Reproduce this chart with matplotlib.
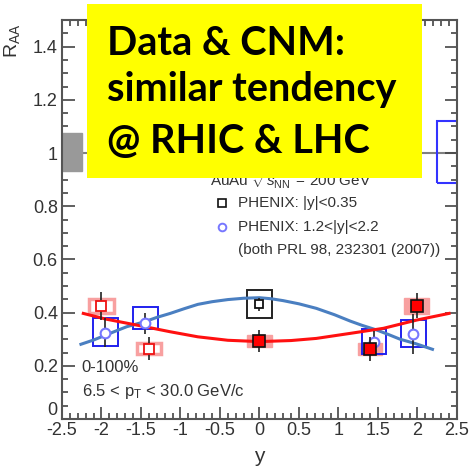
import numpy as np
import matplotlib
matplotlib.use("Agg")
import matplotlib.pyplot as plt
from matplotlib.patches import Rectangle
from matplotlib.ticker import MultipleLocator

plt.rcParams['font.family'] = ['Liberation Sans', 'DejaVu Sans']
plt.rcParams['mathtext.fontset'] = 'custom'
plt.rcParams['mathtext.rm'] = 'Liberation Sans'
plt.rcParams['mathtext.it'] = 'Liberation Sans:italic'

# PHENIX |y|<0.35 (black open square)
mid_x = [0.0]
mid_y = [0.431]
mid_stat = [0.025]
mid_sys_lo = [0.050]
mid_sys_hi = [0.054]

# PHENIX 1.2<|y|<2.2 (blue open circles)
fwd_x = [-1.95, -1.445, 1.45, 1.947]
fwd_y = [0.325, 0.360, 0.289, 0.320]
fwd_stat = [0.053, 0.040, 0.040, 0.075]
fwd_sys_lo = [0.050, 0.023, 0.045, 0.048]
fwd_sys_hi = [0.055, 0.061, 0.048, 0.052]

# red open squares (pink outline boxes)
ro_x = [-2.0, -1.4]
ro_y = [0.425, 0.265]
ro_stat = [0.052, 0.045]
ro_sys = [0.027, 0.019]

# red filled squares (pink filled boxes)
rf_x = [0.0, 1.4, 1.99]
rf_y = [0.293, 0.262, 0.425]
rf_stat = [0.041, 0.045, 0.047]
rf_sys = [0.024, 0.022, 0.030]

# model curves
blue_cx = [-2.26, -2.1, -1.95, -1.8, -1.68, -1.45, -1.3, -1.13, -0.95, -0.78, -0.6, -0.4, -0.2,
           0.0, 0.15, 0.3, 0.5, 0.72, 0.95, 1.15, 1.3, 1.48, 1.63, 1.78, 1.98, 2.19]
blue_cy = [0.281, 0.297, 0.315, 0.333, 0.347, 0.366, 0.382, 0.397, 0.415, 0.431, 0.441, 0.449, 0.454,
           0.456, 0.452, 0.445, 0.433, 0.416, 0.392, 0.368, 0.352, 0.335, 0.318, 0.300, 0.283, 0.262]
red_cx = [-2.23, -1.95, -1.45, -1.13, -0.78, -0.4, 0.0, 0.4, 0.72, 1.15, 1.57, 1.99, 2.40]
red_cy = [0.397, 0.376, 0.347, 0.328, 0.309, 0.296, 0.291, 0.295, 0.303, 0.322, 0.341, 0.372, 0.397]

# global uncertainty boxes around unity
glob_x = [-2.5, 2.5]
glob_lo = [0.932, 0.886]
glob_hi = [1.075, 1.120]

box_hw = 0.155

fig = plt.figure(figsize=(4.71, 4.69), dpi=100)
ax = fig.add_axes([0.1316, 0.1066, 0.8386, 0.8507])
ax.set_xlim(-2.5, 2.5)
ax.set_ylim(0, 1.5)

ax.axhline(1.0, color='#808080', lw=1.5, zorder=1)
ax.add_patch(Rectangle((glob_x[0] - 0.25, glob_lo[0]), 0.5, glob_hi[0] - glob_lo[0],
                       facecolor='#999999', edgecolor='#999999', zorder=2))
ax.add_patch(Rectangle((glob_x[1] - 0.25, glob_lo[1]), 0.5, glob_hi[1] - glob_lo[1],
                       facecolor='none', edgecolor='#3333ff', lw=1.5, zorder=2))

# sys boxes
for x, y, s in zip(ro_x, ro_y, ro_sys):
    ax.add_patch(Rectangle((x - box_hw, y - s), 2 * box_hw, 2 * s, facecolor='none',
                           edgecolor='#f8a0a0', lw=2.5, zorder=3))
for x, y, s in zip(rf_x, rf_y, rf_sys):
    ax.add_patch(Rectangle((x - box_hw, y - s), 2 * box_hw, 2 * s, facecolor='#f8a0a0',
                           edgecolor='#f8a0a0', lw=1, zorder=3))
for x, y, lo, hi in zip(fwd_x, fwd_y, fwd_sys_lo, fwd_sys_hi):
    ax.add_patch(Rectangle((x - box_hw, y - lo), 2 * box_hw, lo + hi, facecolor='none',
                           edgecolor='#2020ee', lw=1.4, zorder=4))
for x, y, lo, hi in zip(mid_x, mid_y, mid_sys_lo, mid_sys_hi):
    ax.add_patch(Rectangle((x - box_hw, y - lo), 2 * box_hw, lo + hi, facecolor='none',
                           edgecolor='#222222', lw=1.4, zorder=4))

# curves
ax.plot(blue_cx, blue_cy, color='#4a7fc1', lw=2.2, zorder=5)
ax.plot(red_cx, red_cy, color='#ff1010', lw=2.2, zorder=5)

# stat bars + markers
ax.errorbar(ro_x, ro_y, yerr=ro_stat, fmt='s', ms=7, mfc='white', mec='#ee1111', mew=1.3,
            ecolor='#222222', elinewidth=1.2, capsize=0, zorder=6)
ax.errorbar(fwd_x, fwd_y, yerr=fwd_stat, fmt='o', ms=7, mfc='white', mec='#7777ff', mew=1.5,
            ecolor='#222222', elinewidth=1.2, capsize=0, zorder=6)
ax.errorbar(mid_x, mid_y, yerr=mid_stat, fmt='s', ms=6, mfc='white', mec='#111111', mew=1.3,
            ecolor='#222222', elinewidth=1.2, capsize=0, zorder=6)
ax.errorbar(rf_x, rf_y, yerr=rf_stat, fmt='s', ms=9, mfc='#ff0000', mec='#111111', mew=1.2,
            ecolor='#222222', elinewidth=1.2, capsize=0, zorder=7)

# axes style (ROOT-like)
for sp in ax.spines.values():
    sp.set_color('#555555')
    sp.set_linewidth(1.5)
ax.xaxis.set_major_locator(MultipleLocator(0.5))
ax.xaxis.set_minor_locator(MultipleLocator(0.1))
ax.yaxis.set_major_locator(MultipleLocator(0.2))
ax.yaxis.set_minor_locator(MultipleLocator(0.05))
ax.tick_params(which='both', direction='in', top=True, right=True, color='#444444', width=1.2,
               labelsize=13, labelcolor='#333333')
ax.tick_params(which='major', length=9)
ax.tick_params(which='minor', length=4.5)
ax.tick_params(axis='x', pad=2)
ax.tick_params(axis='y', pad=3)
ax.set_xticks(np.arange(-2.5, 2.51, 0.5))
ax.set_xticklabels(['-2.5', '-2', '-1.5', '-1', '-0.5', '0', '0.5', '1', '1.5', '2', '2.5'])
ax.set_yticks(np.arange(0, 1.41, 0.2))
ax.set_yticklabels(['0', '0.2', '0.4', '0.6', '0.8', '1', '1.2', '1.4'])
ax.get_yticklabels()[0].set_verticalalignment('bottom')

ax.set_xlabel('y', fontsize=15, color='#333333', labelpad=6)
ax.text(-0.127, 0.99, r'R$_{\mathrm{AA}}$', transform=ax.transAxes, rotation=90,
        ha='center', va='top', fontsize=14, color='#333333')

# legend / annotations
ax.text(0.375, 0.584, r'AuAu $\sqrt{s_{\mathrm{NN}}}$ = 200 GeV', transform=ax.transAxes,
        fontsize=11, color='#333333', va='baseline')
ax.plot([0.405], [0.541], 's', ms=5.5, mfc='white', mec='#111111', mew=1.2,
        transform=ax.transAxes, clip_on=False)
ax.text(0.446, 0.541, 'PHENIX: |y|<0.35', transform=ax.transAxes, fontsize=11,
        color='#333333', va='center')
ax.plot([0.405], [0.481], 'o', ms=5.5, mfc='white', mec='#7777ff', mew=1.4,
        transform=ax.transAxes, clip_on=False)
ax.text(0.446, 0.481, 'PHENIX: 1.2<|y|<2.2', transform=ax.transAxes, fontsize=11,
        color='#333333', va='center')
ax.text(0.446, 0.424, '(both PRL 98, 232301 (2007))', transform=ax.transAxes, fontsize=11,
        color='#333333', va='center')
ax.text(0.05, 0.13, '0-100%', transform=ax.transAxes, fontsize=12, color='#333333', va='center')
ax.text(0.05, 0.068, r'6.5 < p$_{\mathrm{T}}$ < 30.0 GeV/c', transform=ax.transAxes,
        fontsize=12, color='#333333', va='center')

# yellow overlay
fig.patches.append(Rectangle((0.1847, 0.6205), 0.7113, 0.371, transform=fig.transFigure,
                             facecolor='#ffff00', edgecolor='none', zorder=10))
for yy, s in zip([0.883, 0.785, 0.674], ['Data & CNM:', 'similar tendency', '@ RHIC & LHC']):
    fig.text(0.227, yy, s, fontsize=28.5, fontweight='bold', family='Lato', color='black',
             va='baseline', zorder=11)

fig.savefig('out.png', dpi=100)
